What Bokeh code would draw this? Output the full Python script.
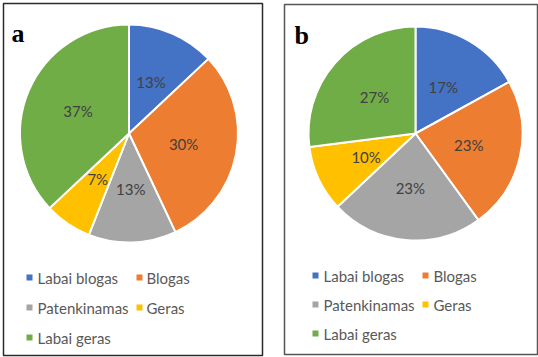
import numpy as np
from bokeh.plotting import figure
from bokeh.models import Range1d, ColumnDataSource
from bokeh.core.properties import value
from bokeh.embed import file_html
from bokeh.resources import INLINE

# ---- data ----
categories = ["Labai blogas", "Blogas", "Patenkinamas", "Geras", "Labai geras"]
values_a = [13, 30, 13, 7, 37]
values_b = [17, 23, 23, 10, 27]
colors = ["#4472C4", "#ED7D31", "#A5A5A5", "#FFC000", "#70AD47"]
panel_labels = ["a", "b"]

W, H = 538, 357
FONT = "Lato"

p = figure(width=W, height=H, x_range=Range1d(0, W), y_range=Range1d(0, H),
           output_backend="svg", toolbar_location=None, min_border=0)
p.axis.visible = False
p.grid.visible = False
p.outline_line_color = None
p.background_fill_color = "white"
p.border_fill_color = "white"


def Y(y):
    return H - y


panels = [
    dict(vals=values_a, label=panel_labels[0], cx=128.5, cy=133, r=109,
         box=(3, 3, 262, 355), box_color="#2a2a2a",
         lab_xy=(11, 33),
         sq_x=(29, 139), tx_x=(37, 146), rows=(277, 307, 337)),
    dict(vals=values_b, label=panel_labels[1], cx=415, cy=133, r=107,
         box=(284, 4, 537, 354), box_color="#555555",
         lab_xy=(294, 35),
         sq_x=(315, 425), tx_x=(323, 433), rows=(275, 304, 333)),
]

legend_slots = [(0, 0), (1, 0), (0, 1), (1, 1), (0, 2)]

for pn in panels:
    x0, y0, x1, y1 = pn["box"]
    p.quad(left=[x0], right=[x1], bottom=[Y(y1)], top=[Y(y0)],
           fill_color=None, line_color=pn["box_color"], line_width=1.5)

    vals = np.array(pn["vals"], dtype=float)
    frac = vals / vals.sum()
    cum = np.concatenate([[0], np.cumsum(frac)])
    start = np.pi / 2 - cum[:-1] * 2 * np.pi
    end = np.pi / 2 - cum[1:] * 2 * np.pi
    mid = (start + end) / 2

    src = ColumnDataSource(dict(start=start, end=end, color=colors))
    p.wedge(x=pn["cx"], y=Y(pn["cy"]), radius=pn["r"], start_angle="start",
            end_angle="end", direction="clock", fill_color="color",
            line_color="white", line_width=2, source=src)

    lr = pn["r"] * 0.51
    lsrc = ColumnDataSource(dict(
        x=pn["cx"] + lr * np.cos(mid),
        y=Y(pn["cy"]) + lr * np.sin(mid),
        t=[f"{int(v)}%" for v in pn["vals"]]))
    p.text(x="x", y="y", text="t", source=lsrc, text_font=value(FONT),
           text_font_size="15px", text_color="#404040",
           text_align="center", text_baseline="middle")

    # legend
    sx, sy, tx = [], [], []
    for (c, r) in legend_slots:
        sx.append(pn["sq_x"][c])
        sy.append(Y(pn["rows"][r]))
        tx.append(pn["tx_x"][c])
    p.scatter(x=sx, y=sy, marker="square", size=6, fill_color=colors,
              line_color=None)
    p.text(x=tx, y=sy, text=categories, text_font=value(FONT),
           text_font_size="15px", text_color="#595959",
           text_align="left", text_baseline="middle")

    lx, ly = pn["lab_xy"]
    p.text(x=[lx], y=[Y(ly)], text=[pn["label"]],
           text_font=value("Liberation Serif"), text_font_style="bold",
           text_font_size="26px", text_color="#000000",
           text_align="left", text_baseline="alphabetic")

open("out.html", "w").write(file_html(p, INLINE))
